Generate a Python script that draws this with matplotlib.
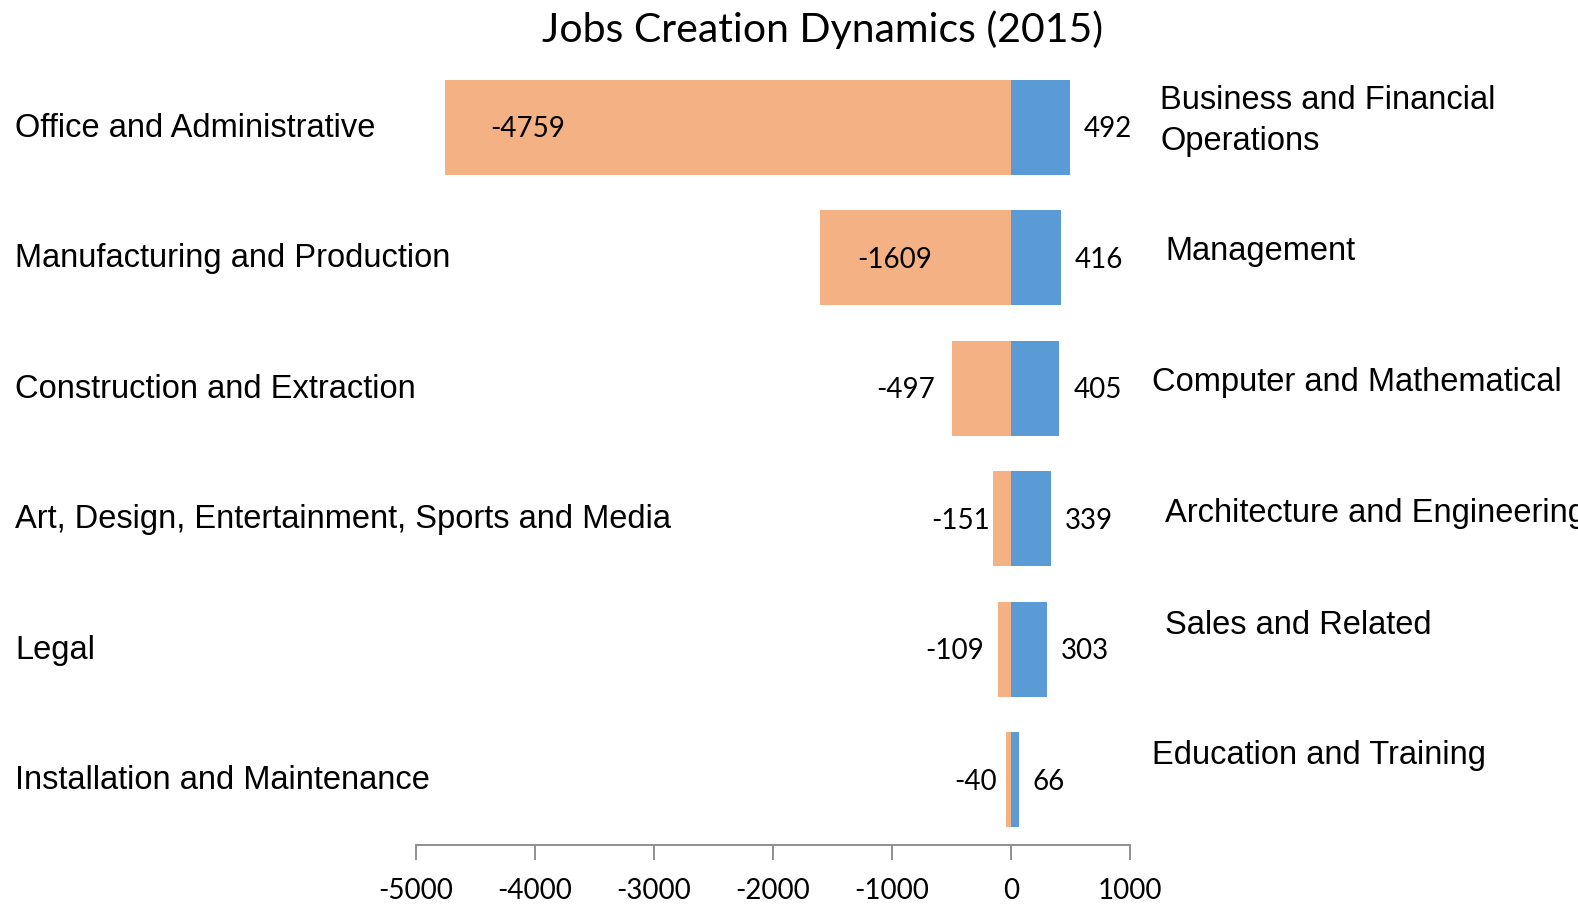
import matplotlib
matplotlib.use("Agg")
import matplotlib.pyplot as plt
import numpy as np

# sectors losing jobs (left) and gaining jobs (right), one pair per row
left_names = ["Office and Administrative", "Manufacturing and Production",
              "Construction and Extraction",
              "Art, Design, Entertainment, Sports and Media",
              "Legal", "Installation and Maintenance"]
left_values = [-4759, -1609, -497, -151, -109, -40]

right_names = ["Business and Financial\nOperations", "Management",
               "Computer and Mathematical", "Architecture and Engineering",
               "Sales and Related", "Education and Training"]
right_values = [492, 416, 405, 339, 303, 66]

x_ticks = [-5000, -4000, -3000, -2000, -1000, 0, 1000]

# label placement (pixels)
neg_label_dx = [83, 75, -46, -32, -43, -31]
name_dx = [30, 35, 22, 35, 35, 22]
name_dy = [6, 6, 6, 5, 24, 24]

orange = "#F4B183"
blue = "#5B9BD5"
num_font = "Lato"
txt_font = "Liberation Sans"

fig = plt.figure(figsize=(15.78, 9.05), dpi=100)
ax = fig.add_axes([416 / 1578, 1 - 845 / 905, 714 / 1578, (845 - 62) / 905])

rows = np.arange(len(left_values))
ax.barh(rows, left_values, height=0.73, color=orange)
ax.barh(rows, right_values, height=0.73, color=blue)

ax.set_xlim(-5000, 1000)
ax.set_ylim(5.5, -0.5)

for sp in ["top", "right", "left"]:
    ax.spines[sp].set_visible(False)
ax.spines["bottom"].set_color("#888888")
ax.spines["bottom"].set_linewidth(1.3)
ax.set_yticks([])
ax.set_xticks(x_ticks)
ax.set_xticklabels([str(t) for t in x_ticks], fontsize=20, family=num_font)
ax.tick_params(axis="x", length=11, width=1.3, color="#888888", pad=13)

for i in rows:
    lv = left_values[i]
    rv = right_values[i]
    ax.annotate(str(lv), xy=(lv, i), xytext=(neg_label_dx[i], -2),
                textcoords="offset pixels", ha="center", va="center",
                fontsize=20, family=num_font)
    ax.annotate(str(rv), xy=(rv, i), xytext=(14, -2),
                textcoords="offset pixels", ha="left", va="center",
                fontsize=20, family=num_font)
    ax.annotate(left_names[i], xy=(15, i), xycoords=("figure pixels", "data"),
                xytext=(0, -1), textcoords="offset pixels",
                ha="left", va="center", fontsize=23.5, family=txt_font)
    ax.annotate(right_names[i], xy=(1000, i), xytext=(name_dx[i], name_dy[i]),
                textcoords="offset pixels", ha="left", va="center",
                fontsize=23.5, family=txt_font, linespacing=1.4,
                annotation_clip=False)

fig.text(823 / 1578, 1 - 30 / 905, "Jobs Creation Dynamics (2015)",
         ha="center", va="center", fontsize=29.5, family=num_font)

fig.savefig("out.png", dpi=100)
